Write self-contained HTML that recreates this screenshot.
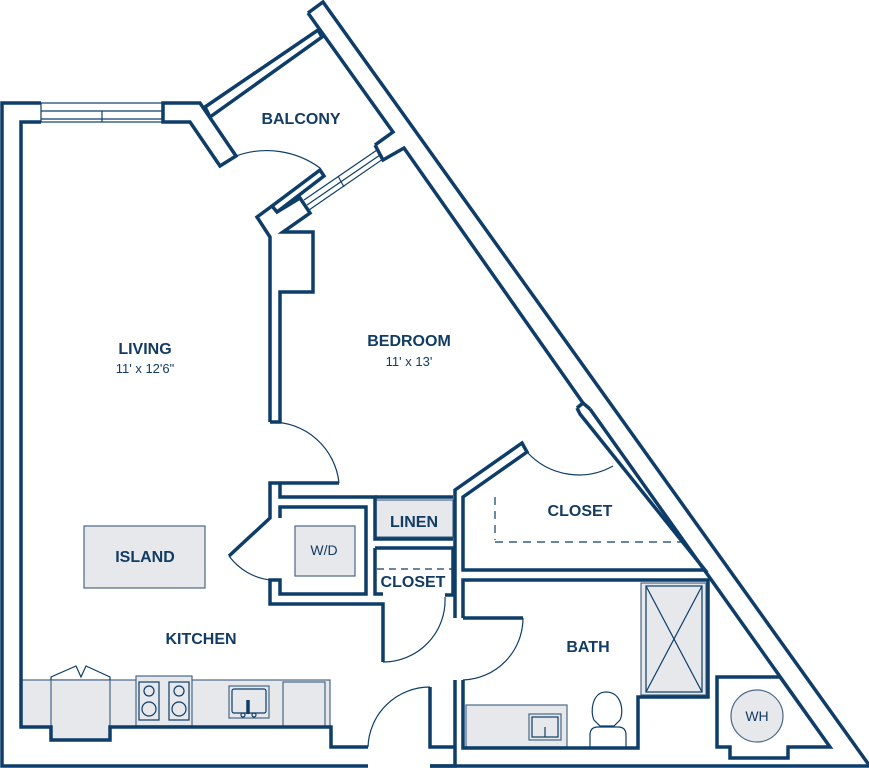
<!DOCTYPE html>
<html><head><meta charset="utf-8"><style>
html,body{margin:0;padding:0;background:#fff;width:869px;height:768px;overflow:hidden}
svg{display:block}
.w{fill:none;stroke:#0d3d68;stroke-width:3.5;stroke-linejoin:miter}
.t{fill:none;stroke:#0d3d68;stroke-width:1.2}
.g{fill:#e6e8ec;stroke:#4a6784;stroke-width:1.2}
text{font-family:"Liberation Sans",sans-serif;fill:#123c63;text-anchor:middle}
.b{font-weight:bold;font-size:16px}
.s{font-size:13px}
</style></head><body>
<svg width="869" height="768" viewBox="0 0 869 768">
<rect x="21" y="680" width="309" height="47" class="g" stroke="none"/>
<rect x="51" y="680" width="59" height="60" class="g"/>
<polyline points="51,680 51,677 76,666 81,677 86,666 110,677 110,680" class="t"/>
<rect x="136" y="676" width="56" height="50" class="g"/>
<rect x="139" y="682" width="20" height="38" class="t"/><rect x="169" y="682" width="20" height="38" class="t"/>
<circle cx="149" cy="691" r="5" class="t"/><circle cx="149" cy="709" r="7" class="t"/>
<circle cx="179" cy="691" r="5" class="t"/><circle cx="179" cy="709" r="7" class="t"/>
<rect x="229" y="686" width="40" height="32" class="g"/><rect x="232" y="689" width="34" height="24" rx="2" class="t"/>
<line x1="248" y1="700" x2="248" y2="714" class="w" stroke-width="1.5"/><circle cx="243" cy="715" r="2" class="t"/><circle cx="254" cy="715" r="2" class="t"/>
<rect x="283" y="682" width="42" height="45" class="g"/>
<rect x="84" y="526" width="121" height="62" class="g"/>
<rect x="295" y="526" width="60" height="50" class="g"/>
<rect x="376" y="500" width="77" height="37" class="g" stroke="none"/>
<rect x="466" y="705" width="101" height="42" class="g"/>
<rect x="529" y="714" width="32" height="26" class="g"/><rect x="532" y="717" width="26" height="20" class="t"/>
<line x1="545" y1="727" x2="545" y2="737" class="t"/>
<path d="M590,747 L590,735 Q590,727 598,727 L618,727 Q626,727 626,735 L626,747" class="t"/>
<path d="M606,692 C592,692 590,712 594,720 L600,726 L614,726 L620,720 C624,712 622,692 606,692 Z" class="t"/>
<rect x="641" y="583" width="65" height="112" class="g"/>
<rect x="646" y="586" width="56" height="106" class="t"/>
<line x1="646" y1="586" x2="702" y2="692" class="t"/><line x1="702" y1="586" x2="646" y2="692" class="t"/>
<circle cx="757" cy="716" r="26" class="g"/>

<polyline points="41,103 2,103 2,766 368,766" class="w"/>
<polyline points="41,122 21,122 21,727 51,727 51,740 110,740 110,727 331,727 331,747 368,747" class="w"/>
<rect x="41" y="103" width="122" height="19" class="t"/>
<line x1="41" y1="111" x2="163" y2="111" class="t"/><line x1="41" y1="119" x2="163" y2="119" class="t"/><line x1="102" y1="111" x2="102" y2="122" class="t"/>
<polygon points="163,103 200,103 236,156 220,166 190,122 163,122" class="w"/>
<polygon points="205,107 318,30 322,37 210,117" class="w"/>
<polyline points="308,13 323,2 869,765" class="w"/>
<polyline points="308,13 393,132 375,145" class="w"/>
<polyline points="375,145 383,160 404,148 583,403 577,408" class="w"/>
<polyline points="590,409 830,747 788,747 788,758 730,758 730,747 717,747 717,677 780,677 830,747" class="w"/>
<polyline points="577,408 580,414 705,570 463,570 463,497 527,452 522,443 455,490 455,618" class="w"/>
<line x1="583" y1="403" x2="590" y2="409" class="w"/>
<!-- bedroom window / balcony door wall -->
<polygon points="272,206 320,170 324,176 277,212" class="w"/>
<line x1="304" y1="200" x2="377" y2="150" class="t"/>
<line x1="307" y1="205" x2="380" y2="155" class="t"/>
<line x1="309" y1="210" x2="383" y2="159" class="t"/>
<line x1="338" y1="176" x2="344" y2="187" class="t"/>
<polyline points="272,206 257,217 270,237 270,422" class="w"/>
<polyline points="277,212 300,198 310,213 283,232 313,232 313,292 280,292 280,422 270,422" class="w"/>
<polyline points="339,483 270,483 270,518 229,556" class="w"/>
<polyline points="280,483 280,497 375,497 375,539 453,539" class="w"/>
<line x1="375" y1="497" x2="453" y2="497" class="w"/>
<polyline points="280,518 280,507 366,507 366,594 280,594 280,580 270,580 270,604 383,604 383,662" class="w"/>
<polyline points="375,548 453,548 453,595 445,595" class="w"/>
<polyline points="375,548 375,594 383,594" class="w"/>
<line x1="377" y1="569" x2="452" y2="569" class="t" stroke-dasharray="7,5"/>
<polyline points="463,618 463,580 708,580 708,697 638,697 638,748 463,748 463,680" class="w"/>
<polyline points="455,680 455,766 430,766" class="w"/>
<polyline points="430,687 430,747 455,747" class="w"/>
<line x1="430" y1="766" x2="869" y2="766" class="w"/>
<line x1="463" y1="618" x2="523" y2="618" class="w"/>
<line x1="495" y1="542" x2="682" y2="542" class="t" stroke-dasharray="8,6" stroke="#5a7896"/>
<line x1="495" y1="497" x2="495" y2="540" class="t" stroke-dasharray="8,6" stroke="#5a7896"/>
<path d="M236,156 A90,90 0 0 1 320,168" class="t"/>
<path d="M270,422 A68,68 0 0 1 339,483" class="t"/>
<path d="M229,556 A60,60 0 0 0 270,580" class="t"/>
<path d="M383,662 A62,62 0 0 0 445,597" class="t"/>
<path d="M430,687 A62,62 0 0 0 368,747" class="t"/>
<path d="M523,618 A62,62 0 0 1 463,680" class="t"/>
<path d="M527,452 A70,70 0 0 0 613,466" class="t"/>

<text x="301" y="124" class="b">BALCONY</text>
<text x="145" y="354" class="b">LIVING</text>
<text x="145" y="373" class="s">11' x 12'6"</text>
<text x="409" y="346" class="b">BEDROOM</text>
<text x="409" y="366" class="s">11' x 13'</text>
<text x="145" y="562" class="b">ISLAND</text>
<text x="201" y="644" class="b">KITCHEN</text>
<text x="324" y="555" style="font-size:14px">W/D</text>
<text x="414" y="527" class="b">LINEN</text>
<text x="413" y="587" class="b">CLOSET</text>
<text x="580" y="516" class="b">CLOSET</text>
<text x="588" y="652" class="b">BATH</text>
<text x="757" y="721" style="font-size:14px">WH</text>
</svg>
</body></html>
